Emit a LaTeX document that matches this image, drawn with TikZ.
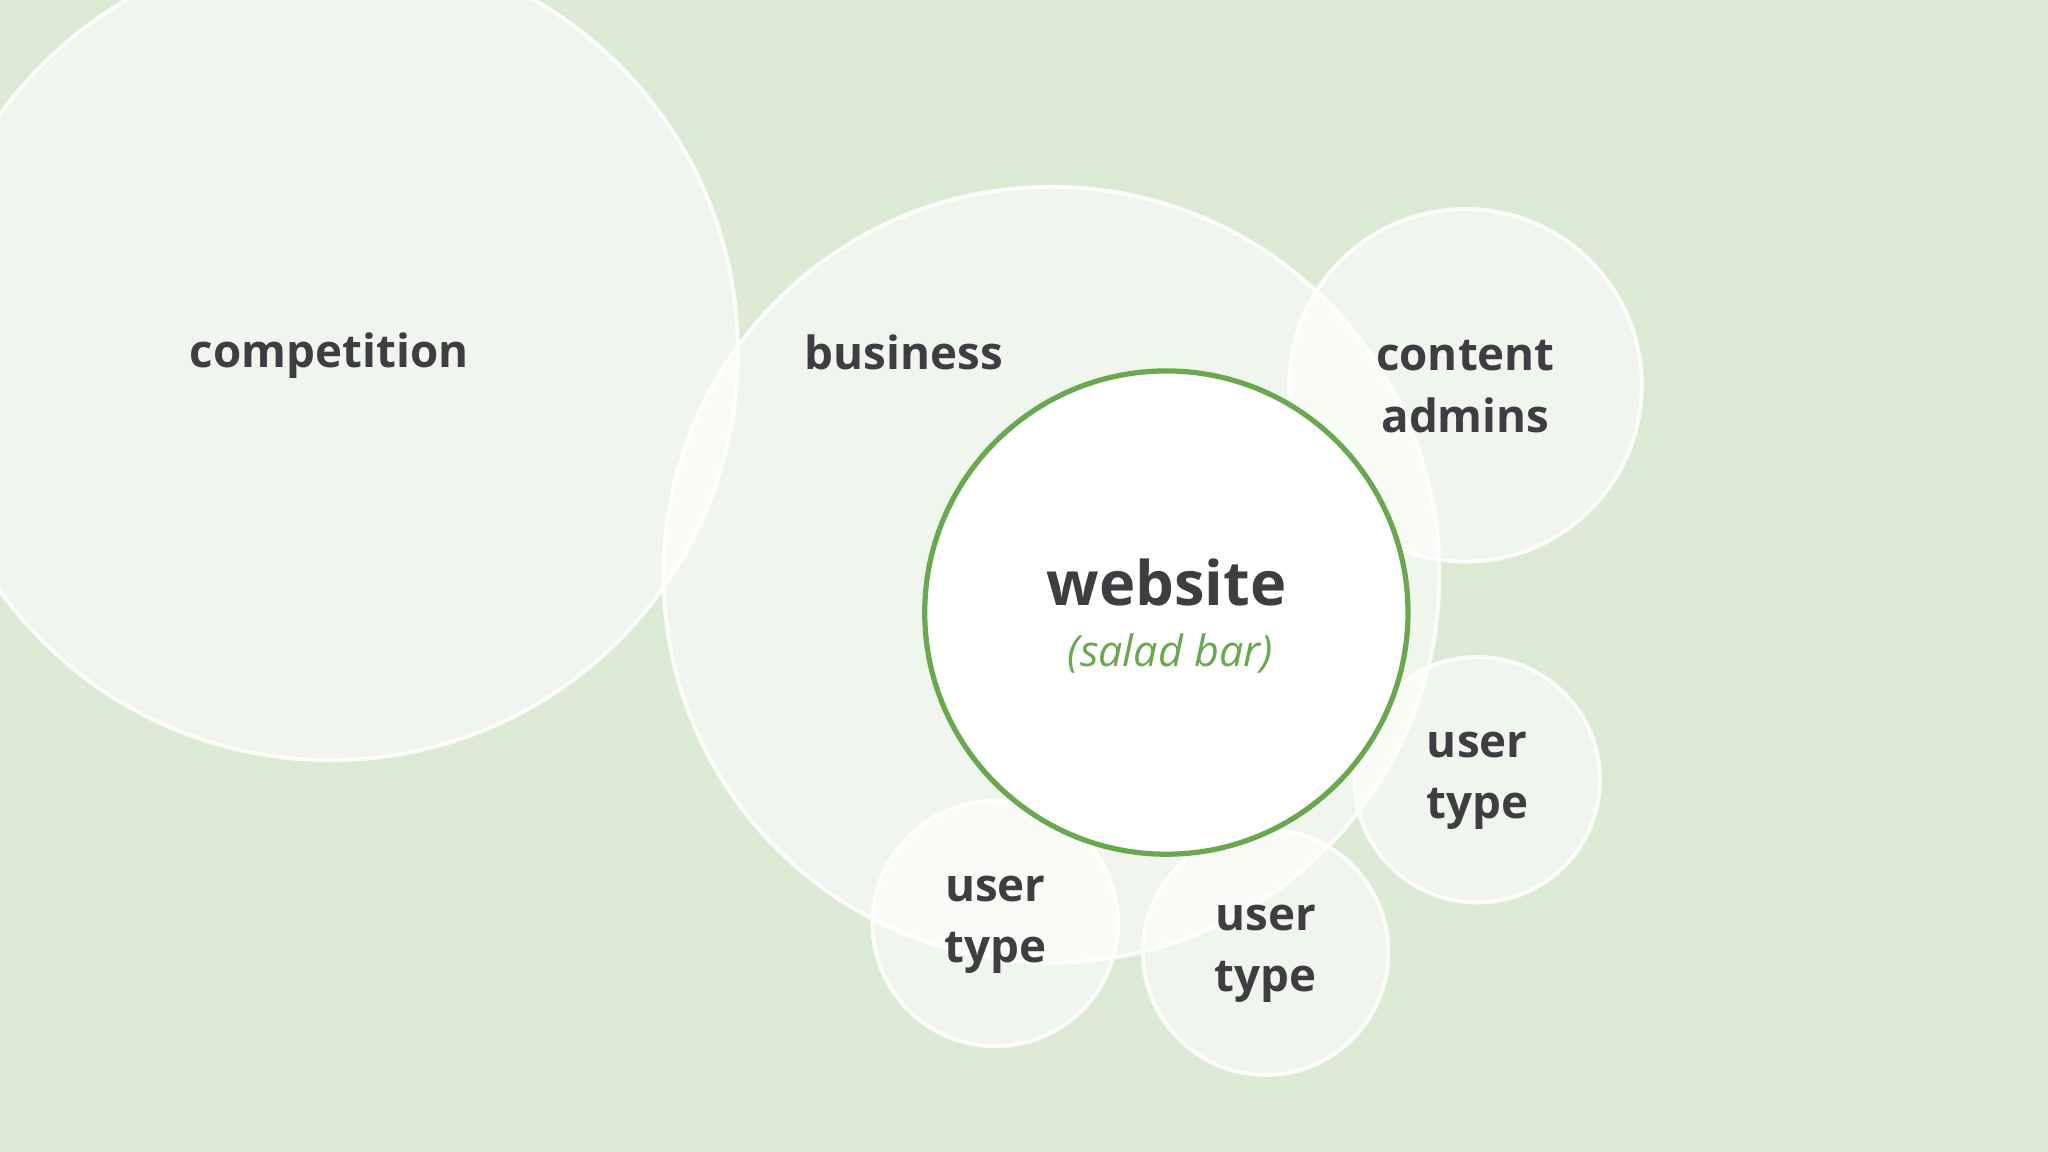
\documentclass[tikz,border=0pt]{standalone}
\usepackage{fontspec}
\setmainfont{Open Sans}
\definecolor{bg}{HTML}{DAEAD3}
\definecolor{txt}{HTML}{3D3D42}
\definecolor{grn}{HTML}{6AA84F}
\begin{document}
\begin{tikzpicture}[x=1pt,y=-1pt,
  bub/.style={circle,draw=white,line width=3pt,fill=white,fill opacity=0.6,draw opacity=0.9,inner sep=0pt},
  lbl/.style={text=txt,font=\bfseries\fontsize{35}{47}\selectfont,align=center}]
\fill[bg] (0,0) rectangle (1568,882);
\useasboundingbox (0,0) rectangle (1568,882);
\begin{scope}
\clip (0,0) rectangle (1568,882);
\node[bub,minimum size=624pt] (comp) at (253,270) {};
\node[bub,minimum size=594pt] (bus) at (805,440) {};
\node[bub,minimum size=270pt] (ca) at (1122,295) {};
\node[bub,minimum size=188pt] (u1) at (1131,597) {};
\node[bub,minimum size=188pt] (u2) at (762,707) {};
\node[bub,minimum size=188pt] (u3) at (969,729) {};
\node[circle,draw=grn,line width=4pt,fill=white,minimum size=370pt,inner sep=0pt] (web) at (893,469) {};
\end{scope}
\node[lbl] at (252,272) {competition};
\node[lbl] at (692,270) {business};
\node[lbl] at (1122,296) {content\\admins};
\node[lbl] at (1131,598) {user\\type};
\node[lbl] at (762,708) {user\\type};
\node[lbl] at (969,730) {user\\type};
\node[text=txt,font=\bfseries\fontsize{47}{50}\selectfont] at (893,446) {website};
\node[text=grn,font=\itshape\fontsize{33}{40}\selectfont] at (896,500) {(salad bar)};
\end{tikzpicture}
\end{document}
